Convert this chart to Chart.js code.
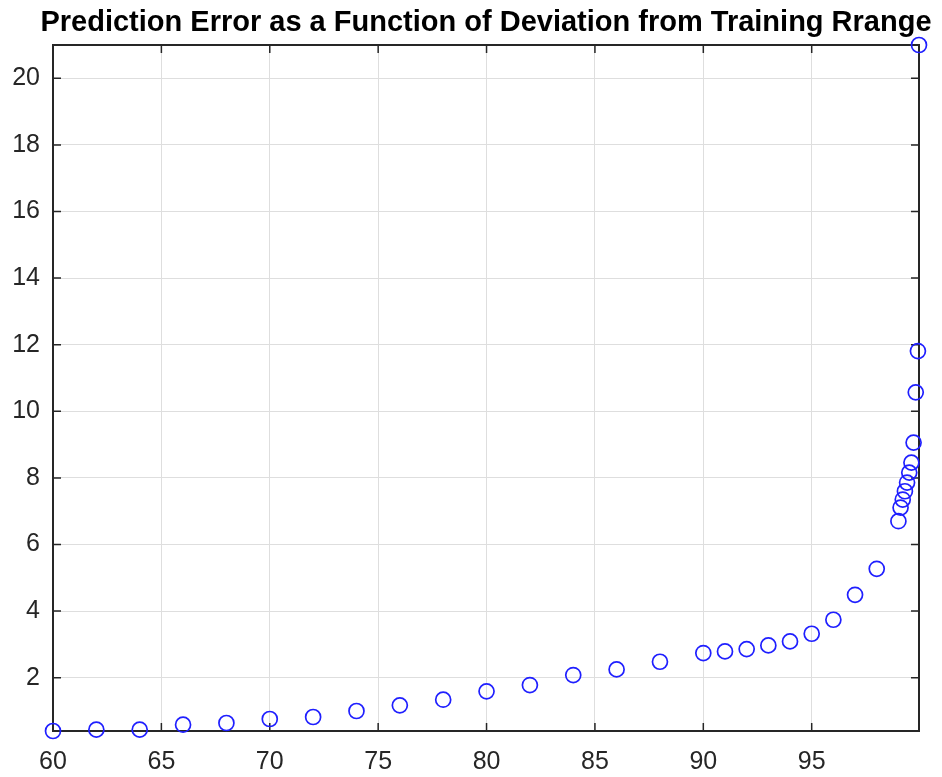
<!DOCTYPE html>
<html>
<head>
<meta charset="utf-8">
<script src="https://cdn.jsdelivr.net/npm/chart.js@4/dist/chart.umd.min.js"></script>
<style>
  html, body { margin: 0; padding: 0; background: #fff; }
  #wrap { width: 942px; height: 777px; }
</style>
</head>
<body>
<div id="wrap"><canvas id="errChart" width="942" height="777"></canvas></div>
<script>
// deviation from training range (%) and the prediction error at each point
const deviation = [60, 62, 64, 66, 68, 70, 72, 74, 76, 78, 80, 82, 84, 86, 88,
  90, 91, 92, 93, 94, 95, 96, 97, 98,
  99, 99.1, 99.2, 99.3, 99.4, 99.5, 99.6, 99.7, 99.8, 99.9, 99.95];
const predError = [0.40, 0.44, 0.44, 0.59, 0.64, 0.76, 0.82, 1.00, 1.17, 1.34, 1.59, 1.78, 2.08, 2.25, 2.48,
  2.74, 2.79, 2.86, 2.97, 3.09, 3.32, 3.74, 4.49, 5.27,
  6.70, 7.11, 7.35, 7.60, 7.86, 8.16, 8.46, 9.06, 10.57, 11.81, 21.0];
const xTickStep = 5;
const yTickStep = 2;
const chartTitle = 'Prediction Error as a Function of Deviation from Training Rrange';

const axisColor = '#262626';
const fontFamily = 'Liberation Sans, Arial, Helvetica, sans-serif';
const tickFont = { family: fontFamily, size: 25 };

// box around the plot with inward tick marks on all four sides
const boxAxes = {
  id: 'boxAxes',
  beforeDatasetsDraw(chart) {
    const { ctx, chartArea: a, scales: { x, y } } = chart;
    const len = 8;
    ctx.save();
    ctx.strokeStyle = axisColor;
    ctx.lineWidth = 1.5;
    ctx.beginPath();
    x.ticks.forEach(t => {
      const px = x.getPixelForValue(t.value);
      ctx.moveTo(px, a.bottom); ctx.lineTo(px, a.bottom - len);
      ctx.moveTo(px, a.top); ctx.lineTo(px, a.top + len);
    });
    y.ticks.forEach(t => {
      const py = y.getPixelForValue(t.value);
      ctx.moveTo(a.left, py); ctx.lineTo(a.left + len, py);
      ctx.moveTo(a.right, py); ctx.lineTo(a.right - len, py);
    });
    ctx.stroke();
    ctx.lineWidth = 2;
    ctx.strokeRect(a.left, a.top, a.right - a.left, a.bottom - a.top);
    ctx.restore();
  }
};

// title centred over the plot box rather than the whole canvas
const boxTitle = {
  id: 'boxTitle',
  afterDraw(chart) {
    const { ctx, chartArea: a } = chart;
    ctx.save();
    ctx.fillStyle = '#000';
    ctx.font = 'bold 29px ' + fontFamily;
    ctx.textAlign = 'center';
    ctx.textBaseline = 'alphabetic';
    ctx.fillText(chartTitle, (a.left + a.right) / 2, a.top - 14);
    ctx.restore();
  }
};

const points = deviation.map((d, i) => ({ x: d, y: predError[i] }));

new Chart(document.getElementById('errChart'), {
  type: 'scatter',
  data: {
    datasets: [{
      data: points,
      pointStyle: 'circle',
      pointRadius: 7.5,
      pointHoverRadius: 7.5,
      pointBorderWidth: 1.7,
      pointBorderColor: '#1f1fff',
      pointBackgroundColor: 'rgba(0,0,0,0)',
      clip: false
    }]
  },
  options: {
    responsive: false,
    animation: false,
    events: [],
    layout: { padding: { left: 0, right: 23, top: 45, bottom: 0 } },
    plugins: {
      legend: { display: false },
      tooltip: { enabled: false },
      title: { display: false }
    },
    scales: {
      x: {
        type: 'linear',
        min: Math.min(...deviation),
        max: Math.max(...deviation),
        grid: { color: '#dedede', lineWidth: 1, drawTicks: false },
        border: { display: false },
        ticks: { stepSize: xTickStep, includeBounds: false, padding: 16, color: axisColor, font: tickFont, maxRotation: 0 },
        afterFit(s) { s.height = 46; }
      },
      y: {
        type: 'linear',
        min: Math.min(...predError),
        max: Math.max(...predError),
        grid: { color: '#dedede', lineWidth: 1, drawTicks: false },
        border: { display: false },
        ticks: { stepSize: yTickStep, includeBounds: false, padding: 13, color: axisColor, font: tickFont },
        afterFit(s) { s.width = 53; }
      }
    }
  },
  plugins: [boxAxes, boxTitle]
});
</script>
</body>
</html>
